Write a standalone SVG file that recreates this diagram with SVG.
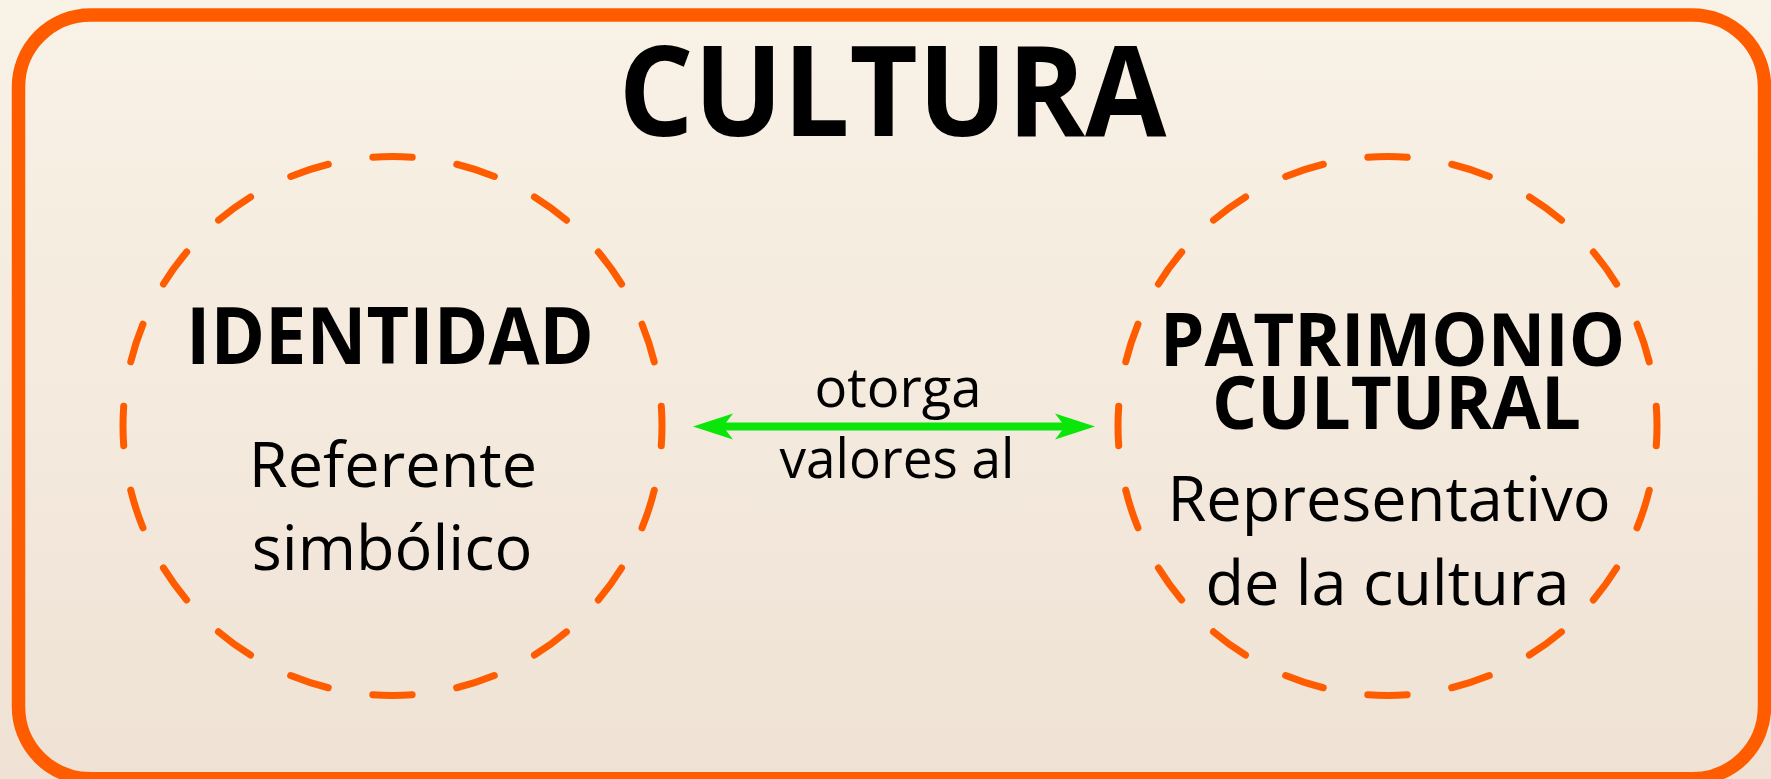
<svg xmlns="http://www.w3.org/2000/svg" width="1771" height="779" viewBox="0 0 1771 779">
  <defs>
    <linearGradient id="bg" x1="0" y1="0" x2="0" y2="1">
      <stop offset="0" stop-color="#f9f2e6"/>
      <stop offset="1" stop-color="#efe2d5"/>
    </linearGradient>
    <marker id="head" markerUnits="userSpaceOnUse" orient="auto-start-reverse" refX="0" refY="0" markerWidth="60" markerHeight="40" overflow="visible">
      <path d="M25,0 L-15,-13 L-5,0 L-15,13 Z" fill="#0ae60a"/>
    </marker>
    <style>
      .ring { fill: none; stroke: #ff5c00; stroke-width: 7; stroke-linecap: round; stroke-dasharray: 4.67 5.33; stroke-dashoffset: 2.33; }
      .title { font-family: "Open Sans", "Liberation Sans", sans-serif; font-weight: 700; fill: #000; text-anchor: middle; }
      .body { font-family: "Open Sans", "Liberation Sans", sans-serif; font-weight: 500; fill: #000; text-anchor: middle; }
    </style>
  </defs>

  <rect x="0" y="0" width="1771" height="779" fill="url(#bg)"/>

  <g id="frame">
    <rect x="18.5" y="15" width="1746" height="763.75" rx="72" ry="72" fill="none" stroke="#ff5c00" stroke-width="13.5"/>
    <text class="title" x="892.5" y="135.5" font-size="126" textLength="548" lengthAdjust="spacingAndGlyphs">CULTURA</text>
  </g>

  <g id="node-identidad">
    <circle class="ring" cx="392.5" cy="426" r="269.5" pathLength="200"/>
    <text class="title" x="390" y="364" font-size="78" textLength="408" lengthAdjust="spacingAndGlyphs">IDENTIDAD</text>
    <text class="body" x="393" y="487" font-size="63">Referente</text>
    <text class="body" x="392" y="570" font-size="63">simbólico</text>
  </g>

  <g id="node-patrimonio">
    <circle class="ring" cx="1387.5" cy="426" r="269.5" pathLength="200"/>
    <text class="title" font-size="74"><tspan x="1392.5" y="366" textLength="465" lengthAdjust="spacingAndGlyphs">PATRIMONIO</tspan><tspan x="1396.5" y="429" textLength="369" lengthAdjust="spacingAndGlyphs">CULTURAL</tspan></text>
    <text class="body" x="1389" y="521" font-size="63">Representativo</text>
    <text class="body" x="1387.5" y="605" font-size="63">de la cultura</text>
  </g>

  <g id="connectors">
    <path d="M718,426.5 L1070,426.5" stroke="#0ae60a" stroke-width="8" fill="none" marker-start="url(#head)" marker-end="url(#head)"/>
    <text class="body" x="898" y="407" font-size="54" textLength="167" lengthAdjust="spacingAndGlyphs">otorga</text>
    <text class="body" x="897" y="478" font-size="54" textLength="235" lengthAdjust="spacingAndGlyphs">valores al</text>
  </g>
</svg>
